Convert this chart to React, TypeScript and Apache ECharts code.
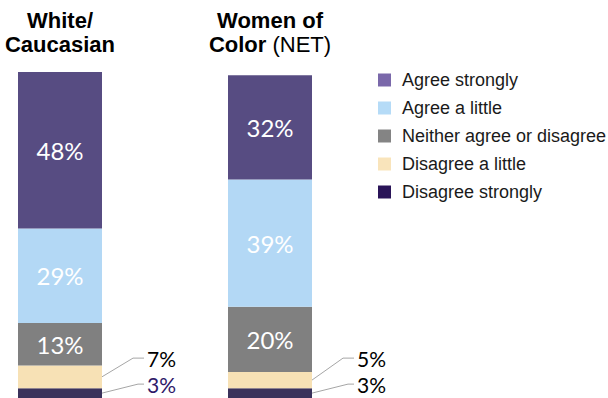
import React, { useEffect, useRef } from "react";
import * as echarts from "echarts";

const categories = ["White/\nCaucasian", "Women of\nColor (NET)"];
const seriesNames = [
  "Disagree strongly",
  "Disagree a little",
  "Neither agree or disagree",
  "Agree a little",
  "Agree strongly",
];
const disagreeStrongly = [3, 3];
const disagreeLittle = [7, 5];
const neither = [13, 20];
const agreeLittle = [29, 39];
const agreeStrongly = [48, 32];

const barColors = ["#3b325b", "#f7e1b5", "#808080", "#b3d8f5", "#574c82"];
const legendColors = ["#2a1458", "#f9e4bb", "#848484", "#b5dbf7", "#7a68aa"];
const legendOrder = [4, 3, 2, 1, 0];

const SANS = "'Liberation Sans', Arial, sans-serif";
const LATO = "Lato, 'Open Sans', sans-serif";

export default function App() {
  const ref = useRef<HTMLDivElement>(null);
  useEffect(() => {
    if (!ref.current) return;
    const chart = echarts.init(ref.current, undefined, { renderer: "svg" });
    const values = [disagreeStrongly, disagreeLittle, neither, agreeLittle, agreeStrongly];

    const barSeries = values.map((vals, i) => ({
      name: seriesNames[i],
      type: "bar",
      stack: "total",
      barWidth: 84,
      clip: false,
      data: vals,
      itemStyle: { color: barColors[i] },
      label: {
        show: i >= 2,
        position: "inside",
        color: "#ffffff",
        fontFamily: LATO,
        fontSize: 24,
        formatter: (p: any) => `${p.value}%`,
      },
    }));

    const outsideData: any[] = [];
    categories.forEach((_, ci) => {
      outsideData.push({ value: [ci, 0, disagreeStrongly[ci], 0], labelColor: ci === 0 ? "#2e1868" : "#000000" });
      outsideData.push({ value: [ci, disagreeStrongly[ci], disagreeLittle[ci], 1], labelColor: "#000000" });
    });

    const leaderSeries = {
      type: "custom",
      coordinateSystem: "cartesian2d",
      silent: true,
      clip: false,
      data: outsideData,
      renderItem: (params: any, api: any) => {
        const cat = api.value(0);
        const start = api.value(1);
        const v = api.value(2);
        const rank = api.value(3);
        const p = api.coord([cat, start + v / 2]);
        const xEdge = p[0] + 42;
        let ly;
        if (rank === 0) {
          ly = p[1] - 9;
        } else {
          const pb = api.coord([cat, start / 2]);
          ly = pb[1] - 9 - 26;
        }
        const elbow = rank === 0 ? 36 : 31;
        const color = outsideData[params.dataIndex].labelColor;
        return {
          type: "group",
          children: [
            {
              type: "polyline",
              shape: { points: [[xEdge, p[1]], [xEdge + elbow, ly], [xEdge + 42, ly]] },
              style: { stroke: "#a6a6a6", lineWidth: 1, fill: null },
            },
            {
              type: "text",
              style: {
                text: `${v}%`,
                x: xEdge + 45,
                y: ly,
                verticalAlign: "middle",
                align: "left",
                fill: color,
                fontFamily: LATO,
                fontSize: 21,
              },
            },
          ],
        };
      },
    };

    chart.setOption({
      animation: false,
      grid: { left: 60, width: 210, top: 72, height: 326 },
      xAxis: {
        type: "category",
        position: "top",
        boundaryGap: false,
        data: categories,
        axisLine: { show: false },
        axisTick: { show: false },
        axisLabel: {
          margin: 16,
          interval: 0,
          formatter: (val: string) =>
            val
              .split("\n")
              .map((line) => {
                const m = line.match(/^(.*?)(\s*\(.*\))$/);
                if (m) return `{b|${m[1]}}{n| ${m[2].trim()}}`;
                return `{b|${line}}`;
              })
              .join("\n"),
          rich: {
            b: { fontFamily: SANS, fontWeight: "bold", fontSize: 22, lineHeight: 24, color: "#000000" },
            n: { fontFamily: SANS, fontWeight: "normal", fontSize: 22, lineHeight: 24, color: "#000000" },
          },
        },
      },
      yAxis: { type: "value", min: 0, max: 100, show: false, splitLine: { show: false } },
      legend: {
        orient: "vertical",
        left: 378,
        top: 70,
        padding: 0,
        itemWidth: 13,
        itemHeight: 13,
        itemGap: 8,
        icon: "rect",
        selectedMode: false,
        data: legendOrder.map((i) => ({ name: seriesNames[i], itemStyle: { color: legendColors[i] } })),
        textStyle: {
          fontFamily: SANS,
          fontSize: 18,
          lineHeight: 20,
          color: "#1a1a1a",
          padding: [0, 0, 0, 6],
        },
      },
      series: [...barSeries, leaderSeries],
    });
    return () => chart.dispose();
  }, []);
  return (
    <div
      ref={ref}
      style={{ position: "absolute", left: 0, top: 0, width: 608, height: 398, background: "#ffffff" }}
    />
  );
}
